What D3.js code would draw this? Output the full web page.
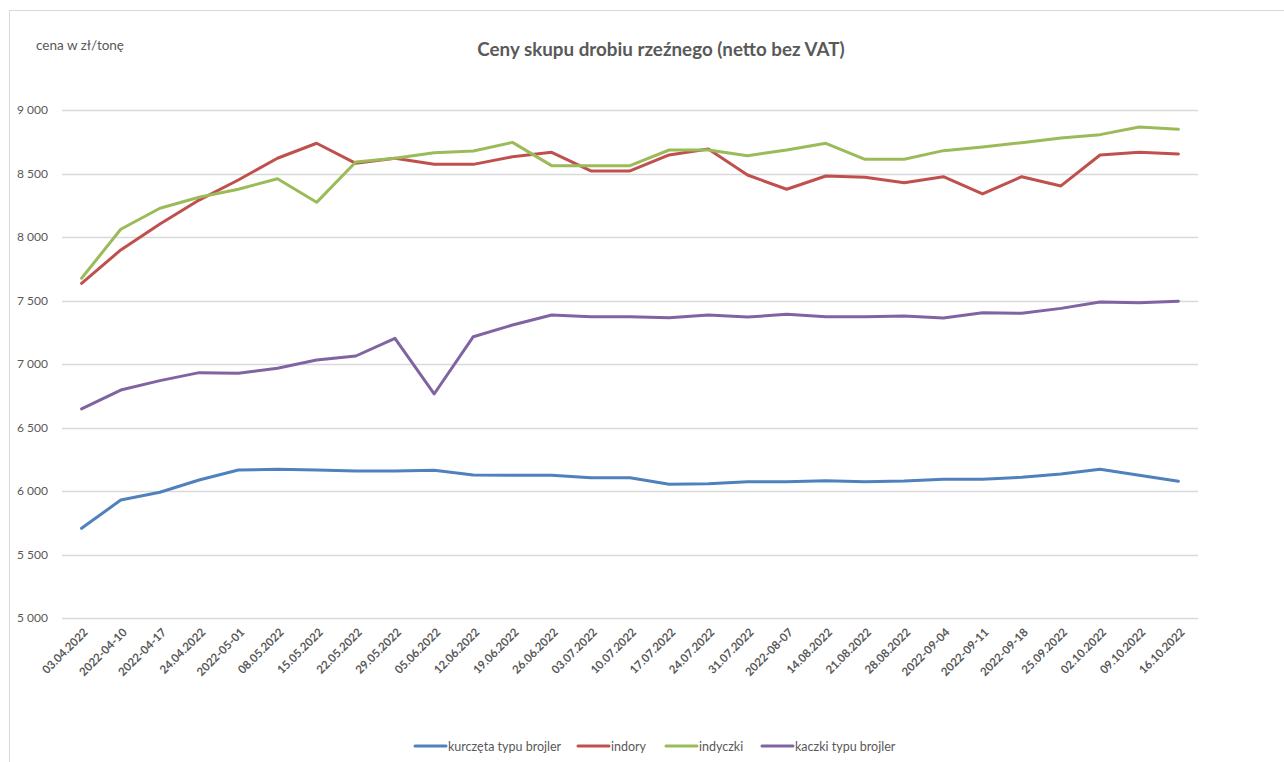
<!DOCTYPE html>
<html>
<head>
<meta charset="utf-8">
<script src="https://cdn.jsdelivr.net/npm/d3@7"></script>
<style>
  body { margin: 0; background: #fff; }
  text { font-family: Lato, "Open Sans", sans-serif; fill: #595959; }
</style>
</head>
<body>
<script>
var weeks = ["03.04.2022","2022-04-10","2022-04-17","24.04.2022","2022-05-01","08.05.2022",
  "15.05.2022","22.05.2022","29.05.2022","05.06.2022","12.06.2022","19.06.2022","26.06.2022",
  "03.07.2022","10.07.2022","17.07.2022","24.07.2022","31.07.2022","2022-08-07","14.08.2022",
  "21.08.2022","28.08.2022","2022-09-04","2022-09-11","2022-09-18","25.09.2022","02.10.2022",
  "09.10.2022","16.10.2022"];

var kurczeta = [5706,5929,5990,6087,6165,6171,6165,6157,6157,6163,6126,6124,6124,6105,6105,
  6053,6057,6073,6073,6081,6073,6079,6092,6092,6108,6134,6171,6124,6076];
var indory = [7635,7898,8102,8291,8449,8620,8738,8580,8620,8572,8572,8632,8667,8520,8520,
  8646,8693,8488,8376,8480,8470,8428,8475,8339,8475,8402,8646,8667,8654];
var indyczki = [7675,8061,8226,8313,8376,8459,8273,8590,8620,8664,8677,8745,8562,8562,8562,
  8685,8685,8640,8685,8738,8612,8612,8680,8709,8743,8780,8806,8866,8848];
var kaczki = [6646,6795,6869,6932,6927,6966,7031,7063,7202,6764,7215,7307,7386,7373,7373,
  7365,7386,7370,7391,7373,7373,7378,7362,7404,7399,7438,7488,7483,7494];

var seriesNames = ["kurczęta typu brojler","indory","indyczki","kaczki typu brojler"];
var yTicks = [5000,5500,6000,6500,7000,7500,8000,8500,9000];

var series = [kurczeta, indory, indyczki, kaczki];
var colors = ["#4f81bd","#c0504d","#9bbb59","#8064a2"];

var width = 1284, height = 762;
var margins = { top: 110, bottom: 144, left: 62, right: 86 };

var svg = d3.select("body").append("svg")
  .attr("width", width)
  .attr("height", height);

// chart border
svg.append("rect")
  .attr("x", 9.5).attr("y", 10.5)
  .attr("width", 1290).attr("height", 770)
  .attr("fill", "none")
  .attr("stroke", "#d9d9d9");

var xScale = d3.scaleBand()
  .domain(weeks)
  .range([margins.left, width - margins.right])
  .paddingInner(0).paddingOuter(0);

var yScale = d3.scaleLinear()
  .domain([5000, 9000])
  .range([height - margins.bottom, margins.top]);

// gridlines
svg.append("g")
  .selectAll("line")
  .data(yTicks)
  .enter()
  .append("line")
  .attr("x1", margins.left)
  .attr("x2", width - margins.right)
  .attr("y1", function(d){ return Math.round(yScale(d)) + 0.5; })
  .attr("y2", function(d){ return Math.round(yScale(d)) + 0.5; })
  .attr("stroke", "#d9d9d9")
  .attr("stroke-width", 1.3);

// y axis
var yAxis = d3.axisLeft(yScale)
  .tickValues(yTicks)
  .tickSize(0)
  .tickPadding(14)
  .tickFormat(function(d){ return d3.format(",")(d).replace(",", " "); });

var yG = svg.append("g")
  .attr("transform", "translate(" + margins.left + ",0)")
  .call(yAxis);
yG.select(".domain").remove();
yG.selectAll("text").style("font-size", "12px").attr("fill", "#595959");

// x axis
var xAxis = d3.axisBottom(xScale).tickSize(0).tickPadding(0);
var xG = svg.append("g")
  .attr("transform", "translate(0," + (height - margins.bottom) + ")")
  .call(xAxis);
xG.select(".domain").remove();
xG.selectAll("text")
  .style("font-size", "11.5px")
  .style("font-weight", "bold")
  .attr("fill", "#595959")
  .attr("text-anchor", "end")
  .attr("dy", null)
  .attr("y", 0)
  .attr("transform", "translate(7,15) rotate(-45)");

// lines
var line = d3.line()
  .x(function(d, i){ return xScale(weeks[i]) + xScale.bandwidth() / 2; })
  .y(function(d){ return yScale(d); });

svg.append("g")
  .selectAll("path")
  .data(series)
  .enter()
  .append("path")
  .attr("d", line)
  .attr("fill", "none")
  .attr("stroke", function(d, i){ return colors[i]; })
  .attr("stroke-width", 3)
  .attr("stroke-linejoin", "round")
  .attr("stroke-linecap", "round");

// titles
svg.append("text")
  .attr("x", 661).attr("y", 56)
  .attr("text-anchor", "middle")
  .style("font-size", "18.8px")
  .style("font-weight", "bold")
  .text("Ceny skupu drobiu rzeźnego (netto bez VAT)");

svg.append("text")
  .attr("x", 36).attr("y", 50)
  .style("font-size", "13.5px")
  .text("cena w zł/tonę");

// legend
var legendX = [415, 578, 666, 762];
var legend = svg.append("g")
  .selectAll("g")
  .data(seriesNames)
  .enter()
  .append("g")
  .attr("transform", function(d, i){ return "translate(" + legendX[i] + ",746)"; });

legend.append("line")
  .attr("x1", 0).attr("x2", 31)
  .attr("y1", 0).attr("y2", 0)
  .attr("stroke", function(d, i){ return colors[i]; })
  .attr("stroke-width", 3)
  .attr("stroke-linecap", "round");

legend.append("text")
  .attr("x", 33).attr("y", 4.5)
  .style("font-size", "12.5px")
  .text(function(d){ return d; });
</script>
</body>
</html>
